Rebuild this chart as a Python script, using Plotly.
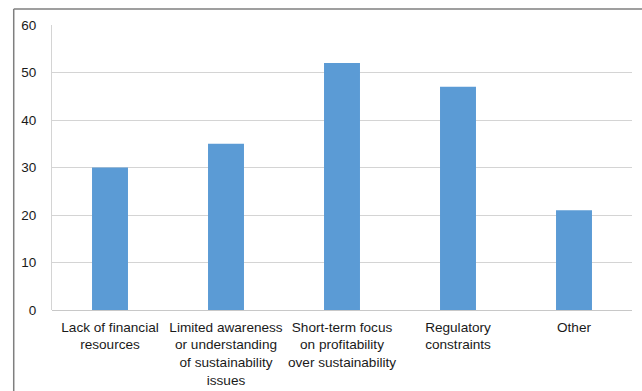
import plotly.graph_objects as go

categories = [
    "Lack of financial<br>resources",
    "Limited awareness<br>or understanding<br>of sustainability<br>issues",
    "Short-term focus<br>on profitability<br>over sustainability",
    "Regulatory<br>constraints",
    "Other",
]
values = [30, 35, 52, 47, 21]
y_ticks = [0, 10, 20, 30, 40, 50, 60]

font_family = "Liberation Sans Narrow, Liberation Sans, Arial, sans-serif"

fig = go.Figure(
    go.Bar(
        x=categories,
        y=values,
        marker=dict(color="#5b9bd5", line=dict(width=0)),
    )
)

fig.update_layout(
    width=642,
    height=391,
    margin=dict(l=52, r=10, t=25, b=81),
    paper_bgcolor="white",
    plot_bgcolor="white",
    bargap=0.69,
    showlegend=False,
    font=dict(family=font_family, size=13, color="#1a1a1a"),
    xaxis=dict(
        showgrid=False,
        showline=False,
        ticks="",
        tickfont=dict(size=13.6),
        tickangle=0,
        ticklabelstandoff=7,
        automargin=False,
    ),
    yaxis=dict(
        range=[0, 60],
        tickvals=y_ticks,
        showgrid=True,
        gridcolor="#d4d4d4",
        gridwidth=1,
        zeroline=True,
        zerolinecolor="#c8c8c8",
        zerolinewidth=1,
        showline=True,
        linecolor="#d4d4d4",
        linewidth=1,
        ticks="",
        ticklabelstandoff=12,
        tickfont=dict(size=13.5),
        automargin=False,
    ),
    shapes=[
        # outer frame around the chart (top and left edges)
        dict(type="line", xref="paper", yref="paper",
             x0=-0.066, x1=1.2, y0=1.056, y1=1.056,
             line=dict(color="#7f7f7f", width=1.5)),
        dict(type="line", xref="paper", yref="paper",
             x0=-0.066, x1=-0.066, y0=1.056, y1=-0.5,
             line=dict(color="#7f7f7f", width=1.5)),
    ],
)

fig.write_html("out.html")
